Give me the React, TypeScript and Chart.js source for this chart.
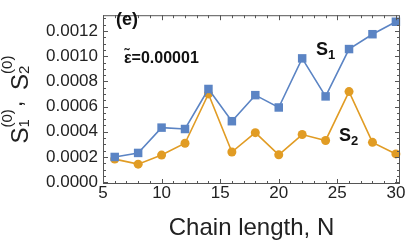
import React, { useEffect, useRef } from "react";
import { Chart, registerables } from "chart.js";

Chart.register(...registerables);

const chainLength = [6, 8, 10, 12, 14, 16, 18, 20, 22, 24, 26, 28, 30];
const s1Values = [0.0002, 0.000232, 0.000433, 0.000422, 0.00074, 0.000484, 0.000691, 0.000593, 0.000983, 0.000681, 0.001057, 0.001175, 0.001274];
const s2Values = [0.000183, 0.000143, 0.000215, 0.000309, 0.000701, 0.000239, 0.000393, 0.000217, 0.000378, 0.000331, 0.000719, 0.000316, 0.000224];
const xTickValues = [5, 10, 15, 20, 25, 30];
const yTickStep = 0.0002;

const BLUE = "#5b84c4";
const ORANGE = "#e19c24";
const FRAME = "#555555";
const FONT = "'Liberation Sans', Arial, sans-serif";

const framePlugin = {
  id: "framePlugin",
  afterDraw(chart: any) {
    const { ctx, chartArea } = chart;
    const xs = chart.scales.x;
    const ys = chart.scales.y;
    const { left, right, top, bottom } = chartArea;
    ctx.save();
    ctx.strokeStyle = FRAME;
    ctx.lineWidth = 1;
    ctx.strokeRect(left + 0.5, top + 0.5, right - left - 1, bottom - top - 1);
    // x ticks (every unit, major every 5)
    for (let v = Math.ceil(xs.min); v <= xs.max; v++) {
      const px = Math.round(xs.getPixelForValue(v)) + 0.5;
      const len = xTickValues.includes(v) ? 5 : 3;
      ctx.beginPath();
      ctx.moveTo(px, bottom);
      ctx.lineTo(px, bottom - len);
      ctx.moveTo(px, top);
      ctx.lineTo(px, top + len);
      ctx.stroke();
    }
    // y ticks
    const minorStep = yTickStep / 4;
    for (let i = 0; i * minorStep <= ys.max; i++) {
      const v = i * minorStep;
      const py = Math.round(ys.getPixelForValue(v)) + 0.5;
      const len = i % 4 === 0 ? 5 : 3;
      ctx.beginPath();
      ctx.moveTo(left, py);
      ctx.lineTo(left + len, py);
      ctx.moveTo(right, py);
      ctx.lineTo(right - len, py);
      ctx.stroke();
    }

    // annotations
    ctx.fillStyle = "#111";
    ctx.textBaseline = "middle";
    ctx.textAlign = "left";
    ctx.font = `bold 18px ${FONT}`;
    ctx.fillText("(e)", 116, 20);
    ctx.font = `bold 16px ${FONT}`;
    ctx.fillText("ε\u0303=0.00001", 124, 59);

    ctx.textBaseline = "alphabetic";
    const drawSub = (x: number, y: number, main: string, sub: string) => {
      ctx.font = `bold 18px ${FONT}`;
      ctx.fillText(main, x, y);
      const w = ctx.measureText(main).width;
      ctx.font = `bold 13px ${FONT}`;
      ctx.fillText(sub, x + w, y + 4);
    };
    drawSub(316, 55, "S", "1");
    drawSub(339, 141, "S", "2");

    // y-axis title with sub/superscripts
    const cy = (top + bottom) / 2;
    ctx.translate(28, cy);
    ctx.rotate(-Math.PI / 2);
    ctx.fillStyle = "#222";
    const mainFont = `24px ${FONT}`;
    const scriptFont = `15px ${FONT}`;
    ctx.font = mainFont;
    const wS = ctx.measureText("S").width;
    const wComma = ctx.measureText(", ").width;
    ctx.font = scriptFont;
    const wSup = ctx.measureText("(0)").width;
    const total = wS + wSup + 2 + wComma + 4 + wS + wSup;
    let x = -total / 2;
    const drawGroup = (sub: string) => {
      ctx.font = mainFont;
      ctx.fillText("S", x, 0);
      x += wS;
      ctx.font = scriptFont;
      ctx.fillText("(0)", x, -16);
      ctx.fillText(sub, x, 1);
      x += wSup;
    };
    drawGroup("1");
    x += 2;
    ctx.font = mainFont;
    ctx.fillText(",", x, -6);
    x += wComma + 4;
    drawGroup("2");
    ctx.restore();
  },
};

export default function App() {
  const canvasRef = useRef<HTMLCanvasElement | null>(null);

  useEffect(() => {
    if (!canvasRef.current) return;
    const chart = new Chart(canvasRef.current, {
      type: "scatter",
      data: {
        datasets: [
          {
            label: "S1",
            data: chainLength.map((n, i) => ({ x: n, y: s1Values[i] })),
            showLine: true,
            borderColor: BLUE,
            backgroundColor: BLUE,
            borderWidth: 1.6,
            pointStyle: "rect",
            pointRadius: 6,
            pointBorderWidth: 0,
            clip: false,
          },
          {
            label: "S2",
            data: chainLength.map((n, i) => ({ x: n, y: s2Values[i] })),
            showLine: true,
            borderColor: ORANGE,
            backgroundColor: ORANGE,
            borderWidth: 1.6,
            pointStyle: "circle",
            pointRadius: 4.5,
            pointBorderWidth: 0,
            clip: false,
          },
        ],
      },
      options: {
        animation: false,
        responsive: true,
        maintainAspectRatio: false,
        layout: { padding: { left: 0, right: 7, top: 3, bottom: 0 } },
        plugins: { legend: { display: false }, tooltip: { enabled: false } },
        scales: {
          x: {
            type: "linear",
            min: 5,
            max: 30.35,
            afterFit: (s: any) => {
              s.height = 63;
            },
            grid: { display: false, drawTicks: false },
            border: { display: false },
            ticks: {
              stepSize: 5,
              includeBounds: false,
              autoSkip: false,
              maxRotation: 0,
              padding: -1,
              color: "#222",
              font: { family: FONT, size: 17 },
              callback: (v: any) => String(v),
            },
            title: {
              display: true,
              text: "Chain length, N",
              color: "#222",
              font: { family: FONT, size: 24 },
              padding: { top: 4, bottom: 4 },
            },
          },
          y: {
            type: "linear",
            min: -0.0000148,
            max: 0.001326,
            afterFit: (s: any) => {
              s.width = 103;
            },
            grid: { display: false, drawTicks: false },
            border: { display: false },
            ticks: {
              stepSize: yTickStep,
              includeBounds: false,
              autoSkip: false,
              padding: 5,
              color: "#222",
              font: { family: FONT, size: 17 },
              callback: (v: any) => Number(v).toFixed(4),
            },
          },
        },
      },
      plugins: [framePlugin],
    });
    return () => chart.destroy();
  }, []);

  return (
    <div style={{ position: "fixed", left: 0, top: 0, width: 407, height: 247 }}>
      <canvas ref={canvasRef} />
    </div>
  );
}
